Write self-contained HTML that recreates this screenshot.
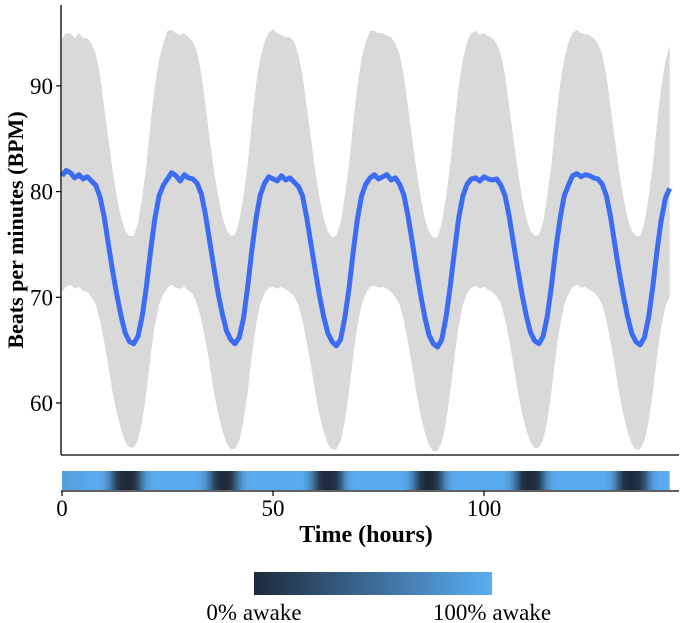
<!DOCTYPE html>
<html><head><meta charset="utf-8"><style>
html,body{margin:0;padding:0;background:#fff;}
svg{display:block;font-family:"Liberation Serif",serif;}
</style></head><body>
<svg id="chart" width="680" height="623" viewBox="0 0 680 623">
<defs>
<linearGradient id="lg" x1="0" x2="1" y1="0" y2="0"><stop offset="0" stop-color="#1e2a3b"/><stop offset="1" stop-color="#5aaef3"/></linearGradient>
<linearGradient id="ag" gradientUnits="userSpaceOnUse" x1="62" x2="670" y1="0" y2="0"></linearGradient>
</defs>
<g id="plot"></g>
<g id="awake"></g>
<line x1="61" y1="5" x2="61" y2="455" stroke="#000" stroke-width="1.3"/>
<line x1="61" y1="455" x2="679" y2="455" stroke="#000" stroke-width="1.3"/>
<line x1="61" y1="491" x2="679" y2="491" stroke="#000" stroke-width="1.3"/>
<g id="yticks"></g>
<g id="xticks"></g>
<text x="23" y="230" transform="rotate(-90 23 230)" text-anchor="middle" font-size="22" font-weight="bold">Beats per minutes (BPM)</text>
<text x="366" y="542" text-anchor="middle" font-size="24" font-weight="bold">Time (hours)</text>
<g>
<rect x="254" y="572" width="238" height="23" fill="url(#lg)"/>
<text x="254" y="620" text-anchor="middle" font-size="23">0% awake</text>
<text x="492" y="620" text-anchor="middle" font-size="23">100% awake</text>
</g>
</svg>
<script>
const meanBpm = [81.5,82,81.8,81.3,81.6,81.2,81.4,81,80.6,79.5,77.6,75,72.5,70.2,68.2,66.6,65.8,65.6,66.3,68.2,71,74.4,77.4,79.6,
80.6,81.2,81.8,81.5,81,81.6,81.3,81.2,80.8,79.8,77.8,75.3,72.8,70.4,68.4,66.8,66,65.6,66.2,68,71,74.5,77.5,79.7,
80.8,81.4,81.2,81,81.5,81.1,81.3,80.9,80.5,79.6,77.5,75,72.6,70.2,68.2,66.6,65.8,65.4,66,68,70.8,74.3,77.4,79.6,
80.7,81.3,81.6,81.2,81.4,81.6,81.1,81.3,80.7,79.7,77.7,75.2,72.6,70.2,68.1,66.4,65.6,65.3,66,68.1,71,74.4,77.5,79.6,
80.7,81.2,81.3,81,81.4,81.2,81.1,81.2,80.6,79.6,77.6,75.1,72.6,70.3,68.3,66.7,65.9,65.6,66.3,68.2,71.1,74.5,77.4,79.6,
80.6,81.5,81.7,81.4,81.6,81.5,81.3,81.2,80.7,79.6,77.6,75,72.5,70.2,68.2,66.6,65.8,65.5,66.2,68.1,71,74.4,77.3,79.4,80.3];
const upperBpm = [94.5,95,95,94.5,95,94.5,94.5,94,93,91,88,85,82,79.5,77.5,76.3,75.8,75.8,77,79.5,82.5,86.5,90,92.5,
94,95.2,95.3,95,94.8,95,94.6,94.2,93.2,91.2,88.2,85,82,79.6,77.6,76.4,75.8,75.9,77.2,79.6,82.6,86.6,90.2,92.6,
94.2,95,95.4,95,94.8,94.6,94.6,94.2,93,91,88,85,82,79.5,77.5,76.2,75.7,75.8,77,79.5,82.5,86.5,90,92.6,
94.2,95.2,95.2,95,95,94.8,94.6,94,93,91,88,85,82,79.5,77.4,76.2,75.6,75.7,77,79.5,82.5,86.5,90,92.5,
94.2,95,95.2,94.8,95,94.7,94.5,94,93,91,88,85,82,79.5,77.5,76.3,75.8,75.9,77.1,79.6,82.6,86.6,90.1,92.5,
94.1,95,95.3,95,94.9,94.8,94.5,94,93,91,88,85,82,79.5,77.5,76.3,75.8,75.8,77,79.5,82.5,86.4,89.9,92.4,93.8];
const lowerBpm = [70.5,71,71.2,70.8,71,70.6,70.5,70,69.3,67.8,65.8,63.5,61,59,57.5,56.3,55.8,55.8,56.5,58.3,61,64.5,67.3,69.3,
70.3,70.9,71.2,70.9,70.8,71,70.6,70.3,69.4,67.9,65.9,63.6,61,59,57.4,56.2,55.6,55.7,56.4,58.3,61,64.5,67.4,69.4,
70.4,70.9,71,70.8,71,70.7,70.5,70.1,69.3,67.8,65.8,63.5,61,58.9,57.3,56.1,55.6,55.6,56.4,58.2,61,64.4,67.3,69.3,
70.4,71,71.1,70.9,71,70.8,70.5,70,69.3,67.8,65.8,63.4,60.9,58.8,57.2,56,55.4,55.5,56.3,58.2,61,64.4,67.3,69.3,
70.4,70.9,71.1,70.8,71,70.7,70.5,70.1,69.4,67.9,65.9,63.6,61.1,59,57.5,56.3,55.7,55.8,56.5,58.3,61.1,64.5,67.3,69.3,
70.3,71,71.2,70.9,71,70.7,70.5,70,69.3,67.8,65.8,63.5,61,58.9,57.3,56.1,55.6,55.6,56.4,58.2,61,64.4,67.2,69.2,70];
const awakeFrac = [0.9,0.9,0.92,0.92,0.93,0.95,0.97,1,1,0.97,0.9,0.75,0.45,0.15,0.03,0,0,0.05,0.25,0.6,0.85,0.95,1,1,
1,1,1,1,1,1,1,1,0.98,0.92,0.8,0.55,0.25,0.06,0,0,0.1,0.35,0.65,0.88,0.97,1,1,1,
1,1,1,1,1,1,1,1,1,0.96,0.88,0.7,0.4,0.12,0.02,0,0.02,0.1,0.35,0.7,0.9,0.98,1,1,
1,1,1,1,1,1,1,1,1,0.96,0.88,0.68,0.38,0.1,0.01,0,0.03,0.15,0.45,0.75,0.92,0.98,1,1,
1,1,1,1,1,1,1,1,1,0.96,0.88,0.68,0.38,0.1,0.01,0,0.03,0.15,0.45,0.75,0.92,0.98,1,1,
1,1,1,1,1,1,1,1,1,0.96,0.88,0.68,0.38,0.1,0.02,0,0.02,0.1,0.3,0.6,0.85,0.95,1,1,1];
const yTicks = [60,70,80,90];
const xTicks = [0,50,100];

const NS = "http://www.w3.org/2000/svg";
const xScale = h => 62 + h * 4.22;
const yScale = v => 403 - (v - 60) * 10.57;
function mk(tag, attrs, parent){ const e=document.createElementNS(NS,tag); for(const k in attrs) e.setAttribute(k,attrs[k]); parent.appendChild(e); return e; }

const plot = document.getElementById('plot');
let pts = [];
upperBpm.forEach((v,i)=>pts.push(xScale(i).toFixed(1)+','+yScale(v).toFixed(1)));
for(let i=lowerBpm.length-1;i>=0;i--) pts.push(xScale(i).toFixed(1)+','+yScale(lowerBpm[i]).toFixed(1));
const band = mk('polygon',{points:pts.join(' '),fill:'#d9d9d9'},plot);


const line = mk('polyline',{points:meanBpm.map((v,i)=>xScale(i).toFixed(1)+','+yScale(v).toFixed(1)).join(' '),fill:'none',stroke:'#3b6cf2','stroke-width':5,'stroke-linejoin':'round'},plot);



const ag = document.getElementById('ag');
const c0=[30,42,59], c1=[90,172,240];
const n = awakeFrac.length-1;
ag.setAttribute('x2', xScale(n));
awakeFrac.forEach((f,i)=>{
  const col='rgb('+c0.map((c,j)=>Math.round(c+(c1[j]-c)*f)).join(',')+')';
  mk('stop',{offset:(i/n).toFixed(4),'stop-color':col},ag);
});
const aw = document.getElementById('awake');
const ar = mk('rect',{x:xScale(0),y:471,width:xScale(n)-xScale(0),height:19,fill:'url(#ag)'},aw);



const yt = document.getElementById('yticks');
yTicks.forEach(v=>{
  const y=yScale(v);
  const l=mk('line',{x1:56,x2:61,y1:y,y2:y,stroke:'#000','stroke-width':1.2},yt);
  
  
  const t=mk('text',{x:53,y:y+8,'text-anchor':'end','font-size':23},yt);
  t.textContent=v;
  
  
});
const xt = document.getElementById('xticks');
xTicks.forEach(v=>{
  const x=xScale(v);
  const l=mk('line',{x1:x,x2:x,y1:491,y2:496,stroke:'#000','stroke-width':1.2},xt);
  
  
  const t=mk('text',{x:x,y:516,'text-anchor':'middle','font-size':23},xt);
  t.textContent=v;
  
  
});
</script>
</body></html>
